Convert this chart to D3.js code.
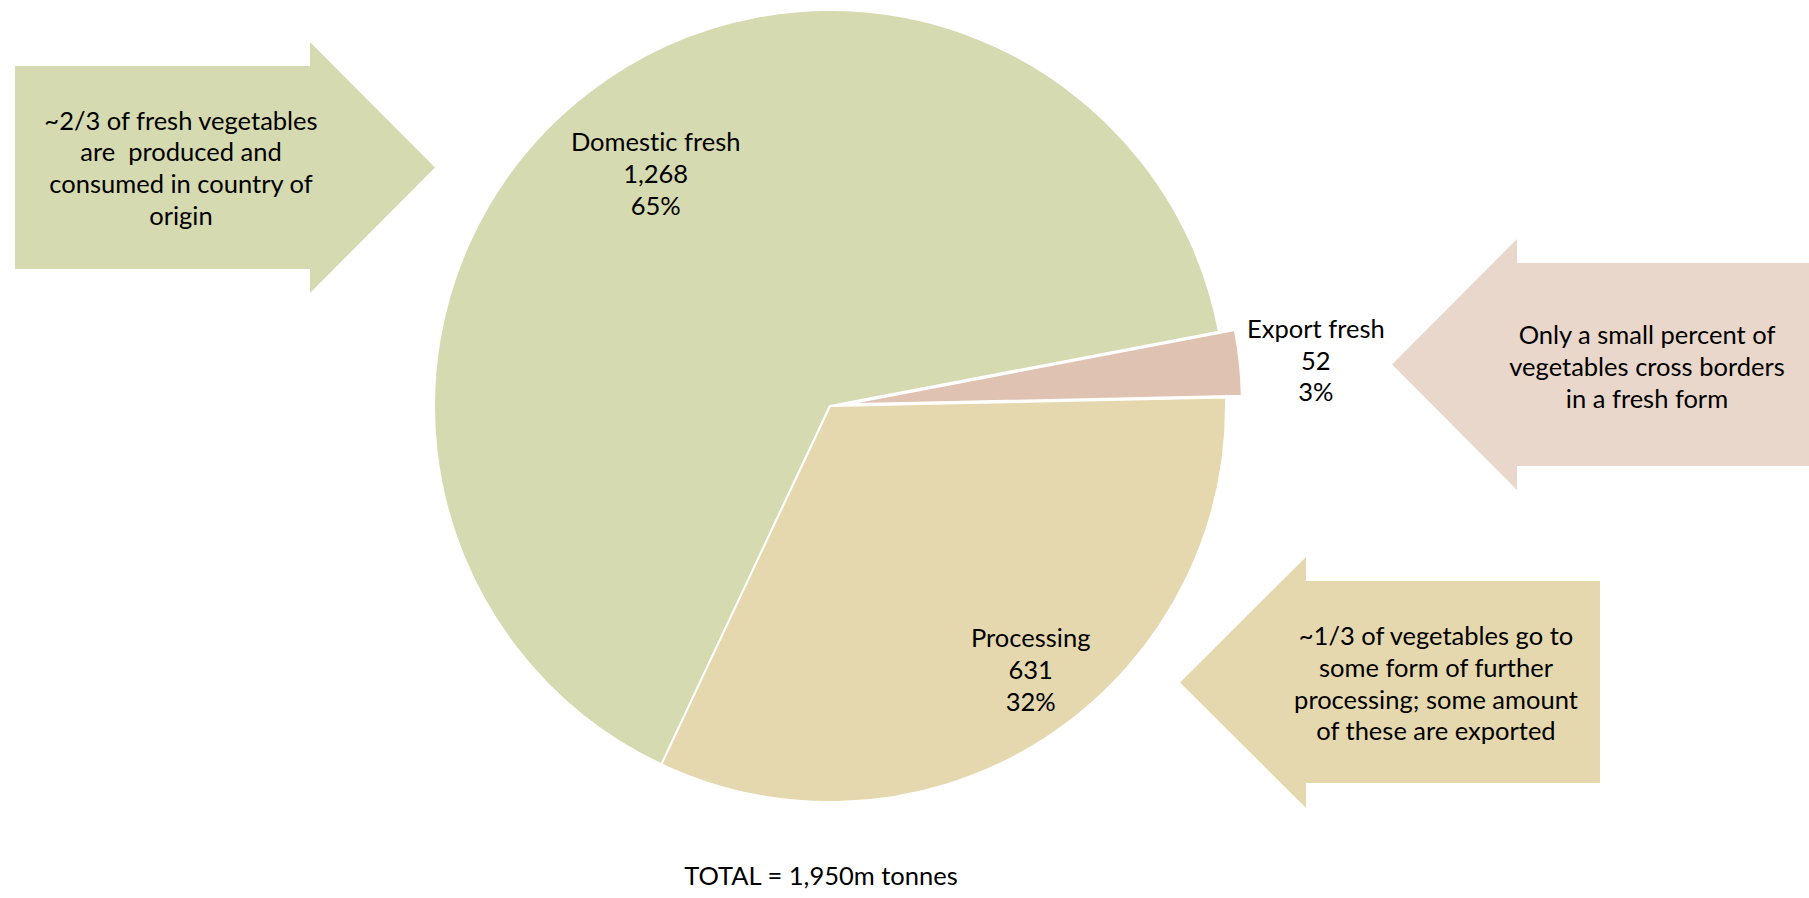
<!DOCTYPE html>
<html>
<head>
<meta charset="utf-8">
<script src="https://cdn.jsdelivr.net/npm/d3@7"></script>
<style>
  html, body { margin: 0; padding: 0; background: #fff; }
  svg { display: block; }
  text { font-family: Lato, "Open Sans", sans-serif; fill: #000; font-variant-ligatures: none; font-feature-settings: "liga" 0, "dlig" 0; }
</style>
</head>
<body>
<svg id="chart" width="1809" height="898"></svg>
<script>
// Vegetable flows (million tonnes)
const categories = ["Domestic fresh", "Export fresh", "Processing"];
const values = [1268, 52, 631];
const percents = ["65%", "3%", "32%"];
const valueLabels = ["1,268", "52", "631"];
const totalLabel = "TOTAL = 1,950m tonnes";

const calloutTexts = [
  ["~2/3 of fresh vegetables", "are  produced and", "consumed in country of", "origin"],
  ["Only a small percent of", "vegetables cross borders", "in a fresh form"],
  ["~1/3 of vegetables go to", "some form of further", "processing; some amount", "of these are exported"]
];

const sliceColors = ["#d6dab0", "#dfc2b1", "#e5d8af"];
const arrowColors = ["#d6dab0", "#e9d7cb", "#e5d8af"];

const svg = d3.select("#chart");
const cx = 830, cy = 406, R = 396;
const fontSize = 25.5, lineH = 31.7;
const baseShift = fontSize * 0.35;

// Pie layout: keep the data order, rotate so the processing/domestic edge sits lower-left
const startDeg = -154.8;
const pie = d3.pie().sort(null).value(d => d)
  .startAngle(startDeg * Math.PI / 180)
  .endAngle((startDeg + 360) * Math.PI / 180);
const arcs = pie(values);
const arc = d3.arc().innerRadius(0).outerRadius(R);

// Exploded offset for the small export slice
const explode = [0, 16, 0];

const g = svg.append("g").attr("transform", `translate(${cx},${cy})`);
g.selectAll("path.slice")
  .data(arcs)
  .join("path")
  .attr("class", "slice")
  .attr("d", arc)
  .attr("fill", (d, i) => sliceColors[i])
  .attr("stroke", "#fff")
  .attr("stroke-width", 2)
  .attr("stroke-linejoin", "round")
  .attr("transform", (d, i) => {
    const a = (d.startAngle + d.endAngle) / 2;
    return `translate(${explode[i] * Math.sin(a)},${-explode[i] * Math.cos(a)})`;
  });

// Slice labels: polar placement (angle offset in degrees, radius) relative to the slice bisector
const labelPolar = [
  { dAng: 0.86, r: 290 },
  { dAng: 0.7, r: 488 },
  { dAng: -4.23, r: 331.6 }
];
arcs.forEach((d, i) => {
  const a = (d.startAngle + d.endAngle) / 2 + labelPolar[i].dAng * Math.PI / 180;
  const x = labelPolar[i].r * Math.sin(a);
  const y = -labelPolar[i].r * Math.cos(a);
  const lines = [categories[i], valueLabels[i], percents[i]];
  const t = g.append("text")
    .attr("text-anchor", "middle")
    .attr("font-size", fontSize);
  lines.forEach((s, k) => {
    t.append("tspan")
      .attr("x", x)
      .attr("y", y + (k - (lines.length - 1) / 2) * lineH + baseShift)
      .text(s);
  });
});

// Callout block arrows
const arrows = [
  { dir: "right", bodyX0: 15, bodyX1: 310, tipX: 435, bodyY0: 66, bodyY1: 269, headY0: 42, headY1: 293, textX: 181, textY: 168.4 },
  { dir: "left", bodyX0: 1517, bodyX1: 1809, tipX: 1392, bodyY0: 263, bodyY1: 466, headY0: 239, headY1: 490, textX: 1647, textY: 367 },
  { dir: "left", bodyX0: 1306, bodyX1: 1600, tipX: 1180, bodyY0: 581, bodyY1: 783, headY0: 557, headY1: 808, textX: 1436, textY: 684 }
];

arrows.forEach((a, i) => {
  const midY = (a.headY0 + a.headY1) / 2;
  let pts;
  if (a.dir === "right") {
    pts = [[a.bodyX0, a.bodyY0], [a.bodyX1, a.bodyY0], [a.bodyX1, a.headY0], [a.tipX, midY],
           [a.bodyX1, a.headY1], [a.bodyX1, a.bodyY1], [a.bodyX0, a.bodyY1]];
  } else {
    pts = [[a.bodyX1, a.bodyY0], [a.bodyX0, a.bodyY0], [a.bodyX0, a.headY0], [a.tipX, midY],
           [a.bodyX0, a.headY1], [a.bodyX0, a.bodyY1], [a.bodyX1, a.bodyY1]];
  }
  svg.append("path")
    .attr("d", d3.line()(pts) + "Z")
    .attr("fill", arrowColors[i]);

  const lines = calloutTexts[i];
  const t = svg.append("text")
    .attr("text-anchor", "middle")
    .attr("font-size", fontSize)
    .attr("xml:space", "preserve")
    .style("white-space", "pre");
  lines.forEach((s, k) => {
    t.append("tspan")
      .attr("x", a.textX)
      .attr("y", a.textY + (k - (lines.length - 1) / 2) * lineH + baseShift)
      .text(s);
  });
});

// Total
svg.append("text")
  .attr("x", 821)
  .attr("y", 885)
  .attr("text-anchor", "middle")
  .attr("font-size", fontSize)
  .text(totalLabel);
</script>
</body>
</html>
